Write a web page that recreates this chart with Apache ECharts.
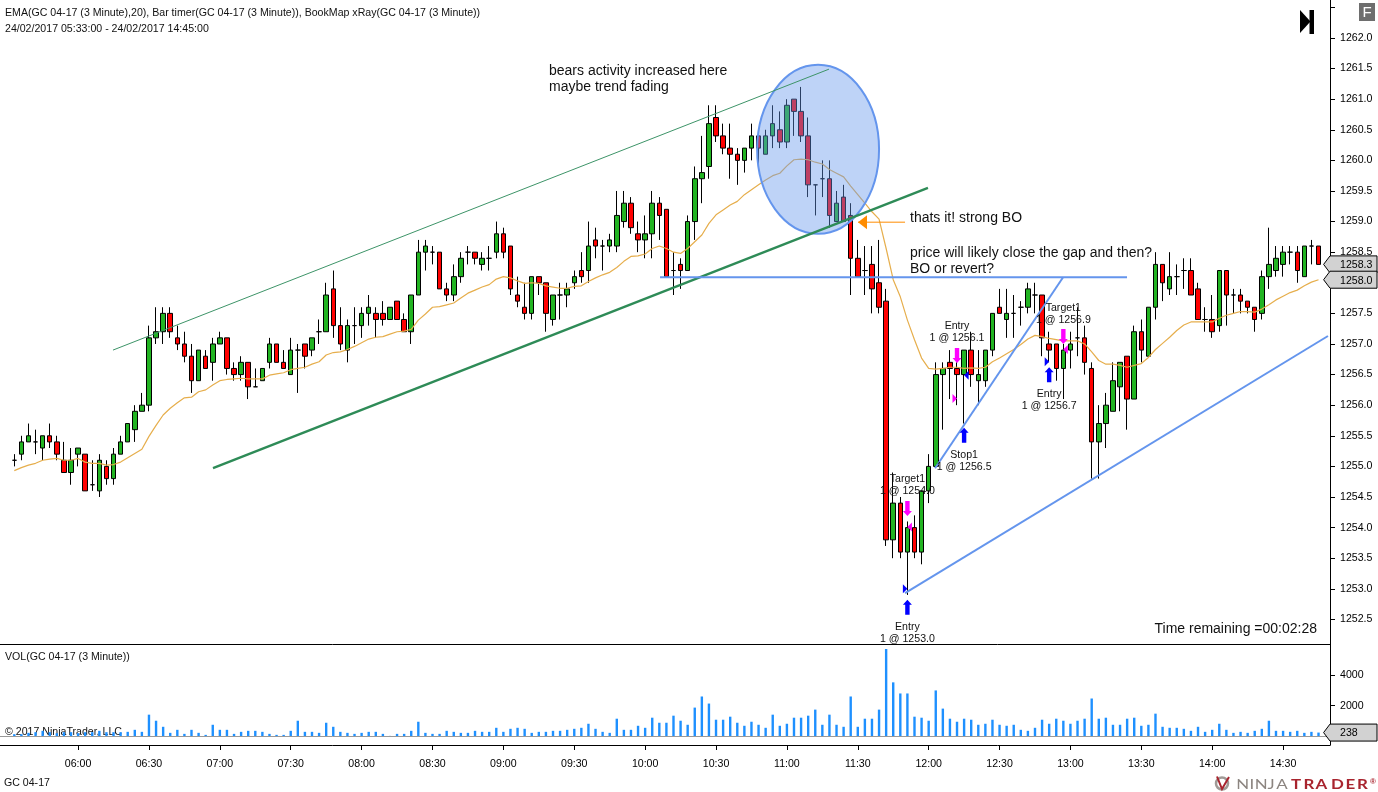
<!DOCTYPE html>
<html><head><meta charset="utf-8">
<style>html,body{margin:0;padding:0;background:#fff}#c{width:1378px;height:792px}</style>
<script src="https://cdn.jsdelivr.net/npm/echarts@6/dist/echarts.min.js"></script>
</head><body><div id="c"></div>
<script>
const startMinute = 333; // 05:33
const opens = [1255.1,1255.2,1255.4,1255.4,1255.3,1255.5,1255.4,1255.1,1254.9,1255.2,
1255.2,1254.7,1254.6,1255.0,1254.8,1255.2,1255.4,1255.6,1255.9,1256.0,
1257.1,1257.2,1257.5,1257.1,1257.0,1256.8,1256.4,1256.8,1256.7,1257.0,
1257.1,1256.6,1256.5,1256.7,1256.3,1256.4,1256.7,1257.0,1256.7,1256.5,
1256.9,1257.0,1256.9,1257.2,1257.2,1257.9,1257.3,1256.9,1257.3,1257.3,
1257.5,1257.5,1257.5,1257.4,1257.7,1257.4,1257.2,1257.8,1258.5,1258.5,
1258.5,1257.9,1257.8,1258.1,1258.5,1258.5,1258.3,1258.4,1258.5,1258.8,
1258.6,1257.8,1257.6,1257.5,1258.1,1258.0,1257.4,1257.8,1257.8,1258.0,
1258.2,1258.2,1258.7,1258.6,1258.6,1258.6,1259.0,1259.3,1258.8,1258.7,
1258.8,1259.3,1259.2,1258.2,1258.3,1258.2,1259.0,1259.7,1259.9,1260.7,
1260.4,1260.2,1260.1,1260.0,1260.2,1260.4,1260.1,1260.4,1260.5,1260.3,
1261.0,1260.8,1260.4,1259.6,1259.7,1259.7,1259.0,1259.4,1259.1,1258.4,
1258.2,1258.3,1258.0,1257.7,1253.8,1254.4,1253.6,1254.0,1253.6,1254.6,
1255.0,1256.5,1256.7,1256.6,1256.5,1256.9,1256.4,1256.4,1256.9,1257.6,
1257.4,1257.5,1257.6,1257.6,1257.8,1257.8,1257.0,1257.0,1256.6,1256.9,
1257.1,1257.1,1256.6,1255.4,1255.7,1255.9,1256.3,1256.8,1256.1,1257.2,
1256.8,1257.6,1258.3,1257.9,1258.1,1258.2,1258.2,1257.9,1257.4,1257.4,
1257.3,1258.2,1257.8,1257.8,1257.7,1257.6,1257.5,1258.1,1258.2,1258.3,
1258.5,1258.5,1258.1,1258.6,1258.6];
const closes = [1255.1,1255.4,1255.5,1255.4,1255.5,1255.4,1255.2,1254.9,1255.1,1255.3,
1254.6,1254.7,1255.1,1254.8,1255.2,1255.4,1255.7,1255.9,1256.0,1257.1,
1257.2,1257.5,1257.2,1257.0,1256.8,1256.4,1256.9,1256.6,1257.0,1257.1,
1256.6,1256.5,1256.7,1256.3,1256.3,1256.6,1257.0,1256.7,1256.6,1256.9,
1256.9,1256.8,1257.1,1257.2,1257.8,1257.3,1257.0,1257.3,1257.3,1257.5,
1257.6,1257.4,1257.4,1257.6,1257.4,1257.2,1257.8,1258.5,1258.6,1258.5,
1257.9,1257.8,1258.1,1258.4,1258.5,1258.4,1258.4,1258.4,1258.8,1258.5,
1257.9,1257.7,1257.5,1258.1,1258.0,1257.5,1257.8,1257.8,1257.9,1258.1,
1258.1,1258.6,1258.6,1258.6,1258.7,1259.1,1259.3,1258.9,1258.7,1258.8,
1259.3,1259.1,1258.1,1258.2,1258.2,1259.0,1259.7,1259.8,1260.6,1260.4,
1260.2,1260.1,1260.0,1260.2,1260.4,1260.2,1260.4,1260.6,1260.3,1260.9,
1260.8,1260.4,1259.6,1259.6,1259.7,1259.1,1259.3,1259.0,1258.4,1258.1,
1258.2,1257.9,1257.6,1253.8,1254.4,1253.6,1254.0,1253.6,1254.6,1255.0,
1256.5,1256.6,1256.6,1256.5,1256.9,1256.5,1256.5,1256.9,1257.5,1257.5,
1257.5,1257.5,1257.6,1257.9,1257.8,1257.1,1256.9,1256.6,1256.9,1257.0,
1257.1,1256.7,1255.4,1255.7,1256.0,1256.4,1256.7,1256.1,1257.2,1256.9,
1257.6,1258.3,1258.0,1258.1,1258.1,1258.2,1257.8,1257.4,1257.4,1257.2,
1258.2,1257.8,1257.8,1257.7,1257.6,1257.4,1258.1,1258.3,1258.4,1258.5,
1258.5,1258.2,1258.6,1258.6,1258.3];
const lows = [1255.0,1255.1,1255.4,1255.2,1255.1,1255.3,1255.1,1254.9,1254.7,1255.0,
1254.6,1254.6,1254.5,1254.7,1254.7,1255.2,1255.4,1255.4,1255.9,1255.9,
1257.0,1257.0,1257.1,1256.9,1256.7,1256.2,1256.4,1256.6,1256.4,1257.0,
1256.5,1256.4,1256.4,1256.1,1256.3,1256.4,1256.6,1256.7,1256.6,1256.5,
1256.2,1256.6,1256.8,1257.0,1257.2,1257.1,1256.9,1256.7,1257.0,1257.1,
1257.3,1257.1,1257.3,1257.4,1257.4,1257.2,1257.0,1257.8,1258.2,1258.3,
1257.9,1257.7,1257.7,1258.0,1258.3,1258.3,1258.2,1258.2,1258.4,1258.4,
1257.8,1257.6,1257.4,1257.4,1257.8,1257.2,1257.3,1257.4,1257.6,1257.9,
1258.0,1258.0,1258.4,1258.2,1258.5,1258.5,1258.9,1258.8,1258.5,1258.4,
1258.4,1258.7,1258.1,1257.8,1257.9,1258.2,1258.7,1259.3,1259.7,1260.3,
1260.1,1259.7,1259.6,1259.8,1260.0,1259.9,1260.1,1260.2,1260.2,1260.2,
1260.4,1260.3,1259.4,1259.1,1259.4,1258.9,1259.0,1259.0,1257.8,1258.1,
1257.8,1257.5,1257.5,1253.7,1253.5,1253.5,1252.9,1253.5,1253.4,1254.4,
1255.0,1255.6,1256.1,1256.0,1255.7,1256.3,1256.0,1256.3,1256.8,1257.5,
1257.1,1257.1,1257.3,1257.5,1257.5,1256.8,1256.7,1256.4,1256.1,1256.6,
1256.8,1256.5,1254.8,1254.8,1255.3,1255.9,1255.9,1255.6,1256.1,1256.7,
1256.8,1257.4,1257.7,1257.8,1257.8,1257.9,1257.8,1257.4,1257.2,1257.1,
1257.2,1257.3,1257.5,1257.5,1257.5,1257.2,1257.4,1257.9,1258.1,1258.1,
1258.3,1258.0,1258.1,1258.3,1258.3];
const highs = [1255.2,1255.5,1255.7,1255.6,1255.5,1255.7,1255.5,1255.4,1255.3,1255.3,
1255.2,1255.1,1255.2,1255.1,1255.3,1255.5,1255.7,1256.0,1256.2,1257.3,
1257.6,1257.6,1257.6,1257.3,1257.2,1257.0,1256.9,1256.9,1257.1,1257.2,
1257.1,1256.7,1256.8,1256.7,1256.6,1256.6,1257.1,1257.0,1256.9,1257.1,
1257.0,1257.0,1257.1,1257.4,1258.0,1258.2,1257.6,1257.4,1257.6,1257.6,
1257.8,1257.6,1257.7,1257.6,1257.7,1257.5,1257.8,1258.7,1258.7,1258.6,
1258.5,1258.0,1258.3,1258.5,1258.6,1258.5,1258.5,1258.6,1259.0,1258.9,
1258.6,1258.1,1258.0,1258.1,1258.1,1258.0,1257.8,1258.0,1258.0,1258.2,
1258.5,1259.0,1258.9,1258.7,1258.8,1259.5,1259.5,1259.4,1259.0,1259.1,
1259.5,1259.4,1259.2,1258.5,1258.4,1259.1,1259.9,1260.4,1260.9,1260.9,
1260.6,1260.6,1260.2,1260.2,1260.6,1260.4,1260.5,1260.9,1260.8,1261.0,
1261.0,1261.2,1260.7,1259.6,1260.0,1260.0,1259.5,1259.6,1259.3,1258.7,
1258.6,1258.6,1258.7,1257.9,1254.9,1254.5,1254.1,1254.2,1254.6,1255.2,
1256.7,1256.7,1256.9,1256.7,1256.9,1257.2,1256.9,1256.9,1257.5,1257.9,
1257.9,1257.8,1257.7,1258.0,1258.0,1257.8,1257.2,1257.0,1257.0,1257.2,
1257.6,1257.3,1256.7,1256.0,1256.2,1256.7,1256.7,1256.8,1257.3,1257.4,
1257.6,1258.5,1258.3,1258.5,1258.3,1258.4,1258.4,1258.0,1257.6,1257.8,
1258.2,1258.2,1257.9,1257.9,1257.7,1257.6,1258.2,1258.9,1258.6,1258.6,
1258.6,1258.6,1258.6,1258.7,1258.6];
const emaValues = [1254.93,1254.98,1255.02,1255.05,1255.10,1255.12,1255.13,1255.10,1255.10,1255.13,
1255.07,1255.05,1255.05,1255.02,1255.03,1255.07,1255.14,1255.21,1255.28,1255.49,
1255.67,1255.84,1255.95,1256.04,1256.12,1256.13,1256.22,1256.25,1256.33,1256.40,
1256.42,1256.43,1256.44,1256.43,1256.43,1256.43,1256.49,1256.51,1256.53,1256.58,
1256.60,1256.62,1256.67,1256.71,1256.82,1256.86,1256.87,1256.91,1256.96,1257.02,
1257.08,1257.11,1257.12,1257.16,1257.20,1257.21,1257.24,1257.39,1257.49,1257.60,
1257.61,1257.64,1257.67,1257.75,1257.83,1257.88,1257.93,1257.97,1258.06,1258.10,
1258.08,1258.03,1257.99,1258.00,1257.99,1257.95,1257.93,1257.91,1257.91,1257.94,
1257.95,1258.02,1258.08,1258.13,1258.17,1258.25,1258.35,1258.43,1258.44,1258.47,
1258.56,1258.60,1258.56,1258.50,1258.48,1258.56,1258.67,1258.78,1258.97,1259.11,
1259.19,1259.27,1259.33,1259.44,1259.52,1259.60,1259.68,1259.75,1259.79,1259.91,
1260.01,1260.02,1260.01,1259.97,1259.94,1259.85,1259.79,1259.73,1259.58,1259.44,
1259.30,1259.16,1259.04,1258.56,1258.05,1257.77,1257.39,1257.07,1256.77,1256.60,
1256.59,1256.60,1256.62,1256.62,1256.60,1256.61,1256.60,1256.62,1256.71,1256.77,
1256.84,1256.91,1256.99,1257.08,1257.14,1257.12,1257.09,1257.07,1257.05,1257.05,
1257.05,1257.00,1256.87,1256.73,1256.67,1256.67,1256.65,1256.62,1256.65,1256.68,
1256.78,1256.91,1257.01,1257.11,1257.22,1257.31,1257.36,1257.36,1257.36,1257.36,
1257.42,1257.47,1257.50,1257.53,1257.53,1257.52,1257.57,1257.64,1257.72,1257.78,
1257.84,1257.88,1257.95,1258.01,1258.05];
const volumes = [132,132,220,264,352,264,198,264,264,198,
264,264,352,264,264,264,286,418,286,1408,
1012,616,220,418,154,418,220,88,748,418,
418,154,286,352,352,286,154,88,88,352,
1012,286,286,220,880,616,286,220,154,220,
286,286,154,22,154,154,352,946,220,154,
154,352,286,220,220,352,286,286,550,286,
484,550,484,220,286,286,352,352,418,484,
550,814,484,286,220,1144,418,418,682,550,
1210,880,880,1342,1012,748,1870,2596,2134,1078,
1078,1276,880,682,946,748,550,1408,682,814,
1210,1210,1342,1738,748,1408,748,616,2596,616,
1144,1144,1738,5698,3520,2794,2794,1276,1210,1012,
2992,1804,1144,946,1144,1078,748,814,1078,748,
682,748,418,352,550,1078,814,1144,1012,814,
1012,1144,2464,1144,1210,748,748,1144,1210,682,
748,1474,616,550,550,484,352,616,286,418,
814,418,220,286,220,352,484,1012,352,352,
286,352,220,286,238];
const priceTicks = [1252.5,1253,1253.5,1254,1254.5,1255,1255.5,1256,1256.5,1257,1257.5,1258,1258.5,1259,1259.5,1260,1260.5,1261,1261.5,1262,1262.5];
const priceLabels = priceTicks.slice(0,-1);
const volumeTicks = [2000,4000];
const timeTicks = [360,390,420,450,480,510,540,570,600,630,660,690,720,750,780,810,840,870];

// annotations in axis units: [minute, price]
const channelThin  = [[374.77,1256.90],[677.8,1261.49]];
const channelThick = [[417.1,1254.97],[719.7,1259.55]];
const gapLine      = [[606.3,1258.09],[803.95,1258.09]];
const wedgeLine    = [[722.7,1254.97],[776.9,1258.09]];
const lowerLine    = [[710,1252.93],[889,1257.13]];
const bearEllipse  = {minute:673.2, price:1260.18, dMinute:25.8, dPrice:1.381};
const orangeArrow  = [[690.1,1258.99],[710,1258.99]];
const upArrows     = [[711,1252.82],[735,1255.63],[771,1256.62]];
const downArrows   = [[711,1254.19],[732,1256.69],[777,1257.0]];
const fillRight    = [[711,1253.0,'#0000ff'],[732,1256.11,'#ff00ff'],[771,1256.71,'#0000ff']];
const fillLeft     = [[711,1254.01,'#ff00ff'],[735,1256.49,'#0000ff'],[777,1256.91,'#ff00ff']];
const orderNotes   = [[711,1252.27,'Entry\n1 @ 1253.0'],[711,1254.69,'Target1\n1 @ 1254.0'],[732,1257.19,'Entry\n1 @ 1256.1'],[735,1255.08,'Stop1\n1 @ 1256.5'],[771,1256.08,'Entry\n1 @ 1256.7'],[777,1257.49,'Target1\n1 @ 1256.9']];
const bigNotes     = [[559.3,1261.33,'bears activity increased here\nmaybe trend fading'],[712.1,1259.05,'thats it! strong BO'],[712.1,1258.35,'price will likely close the gap and then?\nBO or revert?']];
const priceFlags   = [[1258.3,'1258.3'],[1258.05,'1258.0']];
const volumeFlag   = [238,'238'];

const FONT = '"Liberation Sans", Arial, sans-serif';
const SMALL = '10.6px ' + FONT;
const BIG = '14px ' + FONT;
const xMin = 326.95, xMax = 889.86;
const pMin = 1252.098, pMax = 1262.62;
const vMin = -574, vMax = 6026;

const candleData = opens.map((o,i)=>[startMinute+i*3,o,closes[i],lows[i],highs[i]]);
const emaData = emaValues.map((v,i)=>[startMinute+i*3,v]);
const volData = volumes.map((v,i)=>[startMinute+i*3,v]);
const hhmm = m => String(Math.floor(m/60)).padStart(2,'0')+':'+String(m%60).padStart(2,'0');

function seg(api,pts,color,width){
  const a=api.coord(pts[0]),b=api.coord(pts[1]);
  return {type:'line',shape:{x1:a[0],y1:a[1],x2:b[0],y2:b[1]},style:{stroke:color,lineWidth:width,lineCap:'butt'}};
}
function poly(points,fill){return {type:'polygon',shape:{points},style:{fill}};}
function flag(cx,cy,label){
  const r=cx+47,t=cy-8.5,b=cy+8.5;
  return [
    {type:'polygon',shape:{points:[[cx-6.4,cy],[cx,t],[r,t],[r,b],[cx,b]]},style:{fill:'#d2d2d2',stroke:'#000',lineWidth:1}},
    {type:'text',style:{x:cx+10,y:cy+1,text:label,font:SMALL,fill:'#000',align:'left',verticalAlign:'middle'}}
  ];
}
function renderPriceNotes(params,api){
  const kids=[];
  const c=api.coord([bearEllipse.minute,bearEllipse.price]);
  const e=api.coord([bearEllipse.minute+bearEllipse.dMinute,bearEllipse.price+bearEllipse.dPrice]);
  kids.push({type:'ellipse',shape:{cx:c[0],cy:c[1],rx:e[0]-c[0],ry:c[1]-e[1]},style:{fill:'rgba(100,149,237,0.42)',stroke:'#6495ed',lineWidth:2}});
  kids.push(seg(api,channelThin,'#3d9468',1));
  kids.push(seg(api,channelThick,'#2e8b57',2.4));
  kids.push(seg(api,gapLine,'#6495ed',2));
  kids.push(seg(api,wedgeLine,'#6495ed',2));
  kids.push(seg(api,lowerLine,'#6495ed',2));
  kids.push(seg(api,orangeArrow,'#ff8c00',1));
  const tip=api.coord(orangeArrow[0]);
  kids.push(poly([[tip[0],tip[1]],[tip[0]+9,tip[1]-7],[tip[0]+9,tip[1]+7]],'#ff8c00'));
  upArrows.forEach(p=>{const q=api.coord(p),x=q[0],y=q[1];
    kids.push(poly([[x,y],[x+4.5,y+5],[x+2.2,y+5],[x+2.2,y+15],[x-2.2,y+15],[x-2.2,y+5],[x-4.5,y+5]],'#0000ff'));});
  downArrows.forEach(p=>{const q=api.coord(p),x=q[0],y=q[1];
    kids.push(poly([[x,y],[x+4.5,y-5],[x+2.2,y-5],[x+2.2,y-15],[x-2.2,y-15],[x-2.2,y-5],[x-4.5,y-5]],'#ff00ff'));});
  fillRight.forEach(p=>{const q=api.coord(p);
    kids.push(poly([[q[0],q[1]],[q[0]-4.5,q[1]-4.5],[q[0]-4.5,q[1]+4.5]],p[2]));});
  fillLeft.forEach(p=>{const q=api.coord(p);
    kids.push(poly([[q[0],q[1]],[q[0]+4.5,q[1]-4.5],[q[0]+4.5,q[1]+4.5]],p[2]));});
  orderNotes.forEach(p=>{const q=api.coord(p);
    kids.push({type:'text',style:{x:q[0],y:q[1],text:p[2],font:SMALL,fill:'#111',align:'center',verticalAlign:'middle',lineHeight:12}});});
  bigNotes.forEach(p=>{const q=api.coord(p);
    kids.push({type:'text',style:{x:q[0],y:q[1],text:p[2],font:BIG,fill:'#111',align:'left',verticalAlign:'middle',lineHeight:16.5}});});
  priceFlags.forEach(f=>{const q=api.coord([xMax,f[0]]);flag(q[0],q[1],f[1]).forEach(k=>kids.push(k));});
  return {type:'group',children:kids};
}
function renderVolNote(params,api){
  const q=api.coord([xMax,volumeFlag[0]]);
  return {type:'group',children:flag(q[0],q[1],volumeFlag[1])};
}

const txt=(left,top,text,font,fill)=>({type:'text',left,top,silent:true,style:{text,font:font||SMALL,fill:fill||'#111'}});
const logoGlyph=(x,ch,font,fill)=>({type:'text',x,y:778,scaleX:1.3,silent:true,style:{text:ch,font,fill}});
const NJ='13px "Lato",'+FONT, TR='bold 13px "Lato",'+FONT;
const logoGraphics=[
  logoGlyph(1236.3,'N',NJ,'#8c8580'),logoGlyph(1249.5,'I',NJ,'#8c8580'),logoGlyph(1254.7,'N',NJ,'#8c8580'),logoGlyph(1267.5,'J',NJ,'#8c8580'),logoGlyph(1276.3,'A',NJ,'#8c8580'),
  logoGlyph(1291,'T',TR,'#a8242e'),logoGlyph(1303.5,'R',TR,'#a8242e'),logoGlyph(1315.5,'A',TR,'#a8242e'),logoGlyph(1331,'D',TR,'#a8242e'),logoGlyph(1345.5,'E',TR,'#a8242e'),logoGlyph(1357,'R',TR,'#a8242e'),
  {type:'text',x:1370,y:778,silent:true,style:{text:'\u00ae',font:'bold 8px '+FONT,fill:'#a8242e'}}
];

const chart=echarts.init(document.getElementById('c'),null,{renderer:'canvas'});
chart.setOption({
  animation:false,backgroundColor:'#fff',
  grid:[
    {left:0,right:48,top:0,height:644},
    {left:0,right:48,top:644,height:101}
  ],
  xAxis:[
    {type:'value',gridIndex:0,min:xMin,max:xMax,splitLine:{show:false},axisTick:{show:false},axisLabel:{show:false},axisLine:{show:true,onZero:false,lineStyle:{color:'#000',width:1}}},
    {type:'value',gridIndex:1,min:xMin,max:xMax,splitLine:{show:false},
      axisLine:{show:true,onZero:false,lineStyle:{color:'#000',width:1}},
      axisTick:{show:true,length:5,lineStyle:{color:'#000'},customValues:timeTicks},
      axisLabel:{show:true,color:'#000',fontFamily:'Liberation Sans',fontSize:10.6,margin:14,customValues:timeTicks,formatter:v=>hhmm(v),showMinLabel:true,showMaxLabel:true}}
  ],
  yAxis:[
    {type:'value',gridIndex:0,position:'right',min:pMin,max:pMax,scale:true,splitLine:{show:false},
      axisLine:{show:true,onZero:false,lineStyle:{color:'#000',width:1}},
      axisTick:{show:true,length:5,lineStyle:{color:'#000'},customValues:priceTicks},
      axisLabel:{color:'#000',fontFamily:'Liberation Sans',fontSize:10.6,margin:10,padding:[2,0,0,0],customValues:priceLabels,formatter:v=>v.toFixed(1)}},
    {type:'value',gridIndex:1,position:'right',min:vMin,max:vMax,splitLine:{show:false},
      axisLine:{show:true,onZero:false,lineStyle:{color:'#000',width:1}},
      axisTick:{show:true,length:5,lineStyle:{color:'#000'},customValues:volumeTicks},
      axisLabel:{color:'#000',fontFamily:'Liberation Sans',fontSize:10.6,margin:10,padding:[3,0,0,0],customValues:volumeTicks,formatter:v=>String(v)}}
  ],
  series:[
    {name:'GC 04-17',type:'candlestick',xAxisIndex:0,yAxisIndex:0,data:candleData,encode:{x:0,y:[1,2,3,4]},barWidth:5,
      itemStyle:{color:'#22b422',color0:'#ff0000',borderColor:'#000',borderColor0:'#000',borderColorDoji:'#000',borderWidth:1}},
    {name:'EMA',type:'line',xAxisIndex:0,yAxisIndex:0,data:emaData,showSymbol:false,symbol:'none',lineStyle:{color:'#e6ae4c',width:1.2}},
    {name:'notes',type:'custom',xAxisIndex:0,yAxisIndex:0,data:[[600,1258]],encode:{x:0,y:1},renderItem:renderPriceNotes,clip:false,silent:true,z:5},
    {name:'VOL',type:'bar',xAxisIndex:1,yAxisIndex:1,data:volData,barWidth:2.4,itemStyle:{color:'#1e90ff'},
      markLine:{silent:true,symbol:'none',label:{show:false},lineStyle:{color:'#999',width:1,type:'solid'},data:[{yAxis:0}]}},
    {name:'volnote',type:'custom',xAxisIndex:1,yAxisIndex:1,data:[[600,0]],encode:{x:0,y:1},renderItem:renderVolNote,clip:false,silent:true,z:5}
  ],
  graphic:[
    txt(5,8,'EMA(GC 04-17 (3 Minute),20), Bar timer(GC 04-17 (3 Minute)), BookMap xRay(GC 04-17 (3 Minute))'),
    txt(5,24,'24/02/2017 05:33:00 - 24/02/2017 14:45:00'),
    txt(5,652,'VOL(GC 04-17 (3 Minute))'),
    txt(5,727,'\u00a9 2017 NinjaTrader, LLC'),
    txt(4,778,'GC 04-17'),
    {type:'text',right:61,top:622,silent:true,style:{text:'Time remaining =00:02:28',font:BIG,fill:'#111'}},
    {type:'polygon',silent:true,shape:{points:[[1300,10],[1310.5,21.5],[1300,33]]},style:{fill:'#000'}},
    {type:'rect',silent:true,shape:{x:1309.5,y:10,width:4.5,height:24},style:{fill:'#000'}},
    {type:'rect',silent:true,shape:{x:1359,y:3,width:16,height:18},style:{fill:'#6e6e6e'}},
    {type:'text',left:1362.5,top:5,silent:true,style:{text:'F',font:'15px '+FONT,fill:'#fff'}},
    {type:'circle',silent:true,shape:{cx:1222,cy:783.5,r:6},style:{fill:'none',stroke:'#a09a96',lineWidth:2.5}},
    {type:'polyline',silent:true,shape:{points:[[1217,776.5],[1222,789],[1229,777]]},style:{stroke:'#a8242e',fill:'none',lineWidth:2}},
    ...logoGraphics
  ]
});
</script></body></html>
